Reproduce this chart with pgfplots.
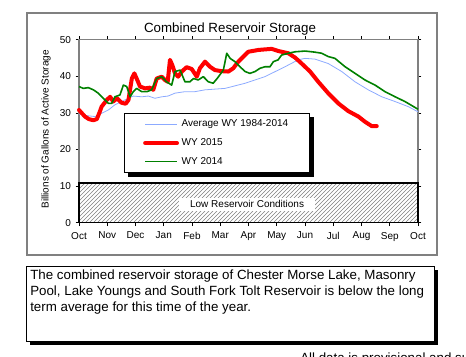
\documentclass[border=0pt]{standalone}
\usepackage{pgfplots}
\pgfplotsset{compat=1.18}
\usepackage{fontspec}
\setmainfont{Liberation Sans}
\usetikzlibrary{patterns,calc}
\definecolor{avgblue}{RGB}{140,170,255}
\definecolor{wygreen}{RGB}{0,128,0}
\begin{document}
\begin{tikzpicture}
\begin{axis}[
  scale only axis, width=254.25pt, height=137.25pt,
  xmin=0, xmax=12, ymin=0, ymax=50,
  xtick={0,1,...,12},
  xticklabels={Oct,Nov,Dec,Jan,Feb,Mar,Apr,May,Jun,Jul,Aug,Sep,Oct},
  ytick={0,10,...,50},
  tick align=outside, major tick length=2.5pt,
  tick style={black, line width=0.5pt},
  axis line style={gray, line width=0.8pt},
  tick label style={font=\fontsize{7.5}{9}\selectfont},
  /pgf/number format/assume math mode=true,
  xticklabel style={yshift=-1pt},
  ylabel={Billions of Gallons of Active Storage},
  ylabel style={font=\fontsize{7.5}{9}\selectfont, at={(axis description cs:-0.097,0.51)}, anchor=center},
  legend style={name=mylegend, at={(0.133,0.60)}, anchor=north west, draw=black, line width=0.6pt, fill=white,
    font=\fontsize{7.5}{9}\selectfont, inner xsep=14pt, inner ysep=3pt, row sep=3.2pt},
  legend cell align=left,
  legend image code/.code={\draw[#1] plot coordinates {(0cm,0cm) (0.84cm,0cm)};},
  clip=false,
]
\fill[pattern=north east lines, pattern color=gray] (axis cs:0,0) rectangle (axis cs:12,10.8);
\draw[black, line width=1.1pt] (axis cs:0,0) rectangle (axis cs:12,10.8);
\node[fill=white, inner xsep=8pt, inner ysep=2pt, font=\fontsize{7.5}{9}\selectfont] at (axis cs:5.95,5.0) {Low Reservoir Conditions};

\addplot[avgblue, line width=0.6pt] coordinates {
(0,29.7) (0.33,29.2) (0.57,29.0) (0.80,29.9) (1.04,30.8) (1.27,32.2) (1.51,33.1) (1.75,34.0)
(1.92,34.6) (2.22,34.4) (2.45,34.6) (2.69,34.0) (2.93,34.4) (3.15,34.6) (3.40,35.4) (3.75,35.8)
(4.1,35.8) (4.46,36.3) (5.17,36.7) (5.88,38.1) (6.58,39.9) (7.29,42.6) (7.76,44.5) (8.0,44.9)
(8.35,44.7) (8.82,43.5) (9.30,41.3) (9.77,38.5) (10.24,36.3) (10.72,34.4) (11.19,33.1) (11.66,31.7) (12,30.3)
};
\addlegendentry{Average WY 1984-2014}

\addplot[red, line width=3pt, line join=round, line cap=round] coordinates {
(0,30.8) (0.21,29.0) (0.35,28.3) (0.51,28.0) (0.63,28.3) (0.72,30.0) (0.80,31.7) (0.98,33.5)
(1.1,34.4) (1.21,33.1) (1.35,34.0) (1.5,32.8) (1.65,32.5) (1.75,33.5) (1.87,39.4) (1.96,40.8)
(2.04,39.4) (2.16,37.2) (2.34,36.7) (2.51,36.9) (2.63,36.3) (2.75,39.4) (2.93,39.9) (3.04,39.0)
(3.14,38.5) (3.22,44.5) (3.30,43.1) (3.40,40.8) (3.51,39.9) (3.64,41.3) (3.81,42.5) (3.99,42.0)
(4.17,39.9) (4.28,42.2) (4.46,44.0) (4.64,42.6) (4.81,41.7) (5.05,41.4) (5.29,41.3) (5.46,42.2)
(5.64,44.0) (5.82,45.4) (5.99,46.7) (6.35,47.2) (6.82,47.5) (7.06,46.9) (7.41,46.3) (7.65,45.1)
(7.88,43.5) (8.18,41.3) (8.47,38.5) (8.82,35.4) (9.18,32.6) (9.53,30.5) (9.89,29.0) (10.12,27.6)
(10.36,26.4) (10.54,26.4)
};
\addlegendentry{WY 2015}

\addplot[wygreen, line width=1.2pt, line join=round] coordinates {
(0,37.2) (0.15,36.7) (0.33,36.9) (0.51,36.3) (0.68,35.4) (0.86,34.0) (1.04,32.6) (1.16,32.6)
(1.27,34.4) (1.45,34.9) (1.57,37.6) (1.69,37.2) (1.81,34.4) (1.92,35.8) (2.04,36.7) (2.22,35.8)
(2.40,35.8) (2.57,36.3) (2.75,39.4) (2.93,39.9) (3.10,38.5) (3.28,37.6) (3.40,41.3) (3.58,41.7)
(3.75,38.5) (3.93,38.5) (4.05,39.4) (4.22,39.0) (4.40,39.9) (4.58,38.5) (4.75,38.1) (4.90,39.5)
(5.11,41.7) (5.23,46.3) (5.35,44.9) (5.52,44.0) (5.70,42.6) (5.88,41.3) (6.05,40.8) (6.23,41.3)
(6.41,42.2) (6.58,42.6) (6.76,42.6) (6.88,44.0) (7.05,44.5) (7.17,45.8) (7.41,46.3) (7.65,46.7)
(8.0,46.9) (8.35,46.6) (8.59,46.3) (8.82,45.4) (9.06,44.9) (9.42,42.6) (9.77,40.8) (10.12,39.0)
(10.48,37.6) (10.83,35.8) (11.19,34.4) (11.54,33.1) (12,31.0)
};
\addlegendentry{WY 2014}
\end{axis}

\begin{scope}[x=0.75pt, y=-0.75pt, shift={(-79,-222.7)}]
\useasboundingbox (0,0) rectangle (466,356);
\draw[gray, line width=0.8pt] (27,13) rectangle (437,255);
\node[font=\fontsize{10}{12}\selectfont] at (230,29) {Combined Reservoir Storage};
% legend shadow (right and bottom strips)
\fill[black] ($(mylegend.north east)+(0,4)$) rectangle ($(mylegend.south east)+(4,4)$);
\fill[black] ($(mylegend.south west)+(4,0)$) rectangle ($(mylegend.south east)+(4,4)$);
\fill[black] (30,270) rectangle (438,345);
\draw[black, fill=white, line width=0.6pt] (26,266) rectangle (434,341);
\node[anchor=north west, inner sep=0pt, align=left, font=\fontsize{10}{12}\selectfont] at (30,270)
  {The combined reservoir storage of Chester Morse Lake, Masonry\\
   Pool, Lake Youngs and South Fork Tolt Reservoir is below the long\\
   term average for this time of the year.};
\node[anchor=north west, inner sep=0pt, font=\fontsize{10}{12}\selectfont] at (300,352.5)
  {All data is provisional and subject to change.};
\end{scope}
\end{tikzpicture}
\end{document}
